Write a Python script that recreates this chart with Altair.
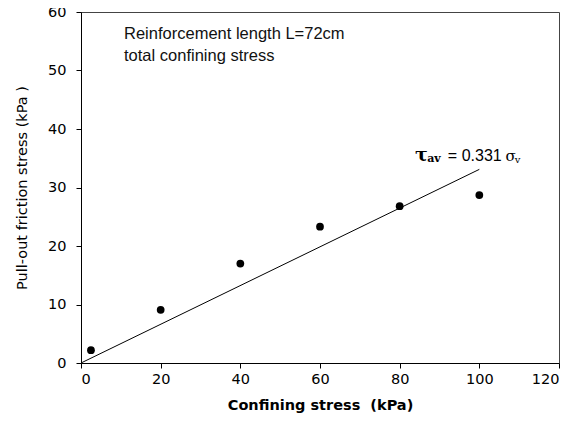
import altair as alt
import pandas as pd

sigma = [2.5, 20, 40, 60, 80, 100]
tau = [2.2, 9.1, 17.0, 23.3, 26.8, 28.7]
fit_x = [0, 100]
fit_slope = 0.331
x_ticks = [0, 20, 40, 60, 80, 100, 120]
y_ticks = [0, 10, 20, 30, 40, 50, 60]

pts = pd.DataFrame({"x": sigma, "y": tau})
fit = pd.DataFrame({"x": fit_x, "y": [v * fit_slope for v in fit_x]})

SANS = "DejaVu Sans"
ARIAL = "Liberation Sans"
SERIF = "DejaVu Serif"

xs = alt.Scale(domain=[0, 120], nice=False)
ys = alt.Scale(domain=[0, 60], nice=False)

xaxis = alt.Axis(values=x_ticks, grid=False, tickSize=5,
                 labelFontSize=14.5, labelFont=SANS, labelColor="black", labelPadding=4,
                 title="Confining stress\u00a0\u00a0(kPa)", titleFont=SANS, titleFontSize=14.5,
                 titleFontWeight="bold", titlePadding=13, titleColor="black",
                 domainColor="black", tickColor="black")
yaxis = alt.Axis(values=y_ticks, grid=False, tickSize=5,
                 labelFontSize=14.5, labelFont=SANS, labelColor="black", labelPadding=10,
                 title="Pull-out friction stress (kPa )", titleFont=SANS, titleFontSize=14.5,
                 titleFontWeight="normal", titlePadding=18, titleColor="black",
                 domainColor="black", tickColor="black")

points = alt.Chart(pts).mark_circle(size=60, color="black", opacity=1).encode(
    x=alt.X("x:Q", scale=xs, axis=xaxis),
    y=alt.Y("y:Q", scale=ys, axis=yaxis),
)
line = alt.Chart(fit).mark_line(color="black", strokeWidth=1).encode(
    x=alt.X("x:Q", scale=xs), y=alt.Y("y:Q", scale=ys)
)

notes = pd.DataFrame({"x": [10.8, 10.8], "y": [55.3, 51.7],
                      "t": ["Reinforcement length L=72cm", "total confining stress"]})
note = alt.Chart(notes).mark_text(align="left", baseline="alphabetic", font=ARIAL, fontSize=16.5,
                                  color="#111").encode(
    x=alt.X("x:Q", scale=xs), y=alt.Y("y:Q", scale=ys), text="t:N")

eq_x = [83.85, 86.9, 92.1, 106.6, 108.9]
eq_y = [34.6, 34.3, 34.53, 34.53, 34.2]
eq_t = ["τ", "av", "= 0.331", "σ", "v"]
eq_size = [19, 11, 16, 15, 10]
eq_weight = ["bold", "bold", "normal", "normal", "normal"]
eq_font = [SERIF, SERIF, ARIAL, SERIF, SERIF]

eq_layers = []
for i in range(len(eq_t)):
    d = pd.DataFrame({"x": [eq_x[i]], "y": [eq_y[i]], "t": [eq_t[i]]})
    eq_layers.append(
        alt.Chart(d).mark_text(align="left", baseline="alphabetic", font=eq_font[i],
                               fontSize=eq_size[i], fontWeight=eq_weight[i],
                               color="black").encode(
            x=alt.X("x:Q", scale=xs), y=alt.Y("y:Q", scale=ys), text="t:N")
    )

chart = alt.layer(line, points, note, *eq_layers).properties(
    width=478, height=351,
    autosize=alt.AutoSizeParams(type="none"),
    padding={"left": 73, "top": 4, "right": 17, "bottom": 55},
).configure_view(stroke="#444", strokeWidth=1)

chart.save("out.html", embed_options={"renderer": "svg", "actions": False})
